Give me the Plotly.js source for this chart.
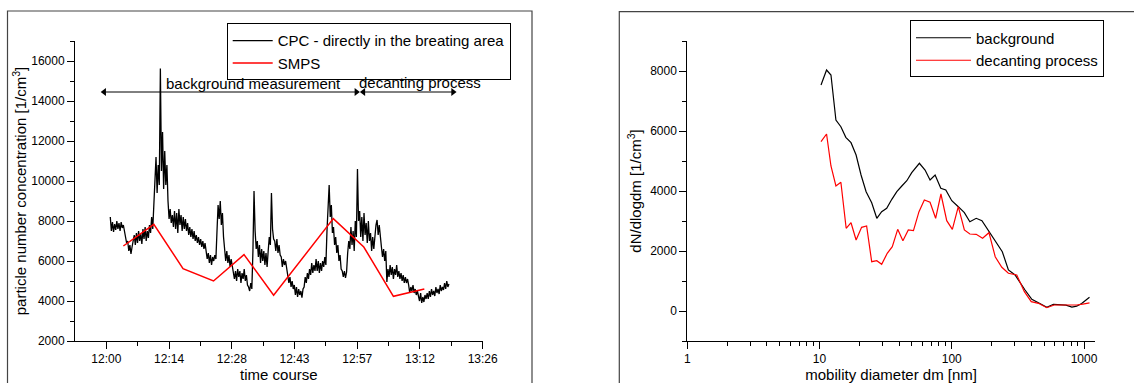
<!DOCTYPE html>
<html><head><meta charset="utf-8">
<script src="https://cdn.plot.ly/plotly-3.0.1.min.js"></script>
<style>html,body{margin:0;padding:0;background:#fff;} #chart{width:1134px;height:383px;}</style>
</head><body><div id="chart"></div>
<script>
// ---- left panel: time course ----
const timeTickVals = [0, 14.4, 28.8, 43.2, 57.6, 72, 86.4];   // minutes after 12:00
const timeTickText = ['12:00', '12:14', '12:28', '12:43', '12:57', '13:12', '13:26'];
const timeMinorVals = [7.2, 21.6, 36, 50.4, 64.8, 79.2];

// CPC readings, sampled every 0.25 min starting 0.9 min after 12:00
const cpcStart = 0.9, cpcStep = 0.25;
const cpcValues = [
  8200,7500,7950,7450,7850,7550,8000,7600,7900,7500,7950,7650,7800,7550,
  7300,6900,7000,6500,6800,6350,6700,
  6950,7300,6800,7400,6900,7500,7000,7350,6850,7600,7100,7700,7000,7500,7150,7800,
  7400,8200,7600,8800,
  9500,11200,9400,10800,9800,
  15620,
  10500,12450,9600,11500,9800,10800,
  9000,8100,8600,7900,
  8300,7700,8500,7600,8400,7400,8600,7800,8300,7500,8200,7600,8100,
  7500,7900,7300,7700,7200,7600,7100,7500,7000,7300,6900,7200,6800,7100,6700,7000,6600,6900,
  6500,6100,6400,5900,6300,5800,6200,6000,6300,6100,
  7500,8800,8100,9000,7800,8400,7200,
  6700,6000,6500,5900,6300,5700,6100,5800,
  5600,5100,5500,5000,5600,5200,5500,4900,5400,5100,5600,5000,5300,4800,
  4700,4500,4900,4600,
  6500,9500,
  7500,6600,7000,6200,6800,5900,6600,6000,6500,5800,6400,5700,
  6500,7200,6800,9400,7600,7100,
  7000,6500,7100,6400,6800,6300,
  6200,5700,6100,5800,6000,5600,
  5400,4900,5200,4700,5000,4600,
  4800,4300,4700,4200,4600,4300,4500,4170,4600,
  4700,5200,4900,5400,5100,5600,5300,5900,5400,5800,5500,6100,
  5500,6000,5400,5900,5500,6000,5700,6200,5800,
  7500,8500,9800,8200,8800,7400,
  7700,6800,7200,6400,6800,6000,6300,5600,
  5500,5200,5500,5150,5450,
  6400,7000,6600,7700,6800,7500,6500,8000,7200,
  10600,8000,
  8500,7200,8200,7000,8400,7300,7900,6900,8000,
  7000,7400,6500,7200,6600,
  7300,7800,8050,7300,7800,7000,
  6700,6200,6600,6000,6500,
  4950,
  5600,5200,5800,5300,5700,5100,5600,5300,5800,5200,5500,5100,5400,5000,
  5300,4900,5200,4900,5100,
  4800,4400,4700,4500,4800,4400,4600,4300,4500,
  4300,4000,4400,3900,4200,3950,4300,4100,
  4400,4100,4500,4200,4600,4300,4500,4250,4700,4400,4600,4350,4800,4500,4700,4550,4900,4600,5000,4700,4850
];
const smpsTime = [3.9, 10.9, 17.6, 24.6, 31.6, 38.4, 52.1, 59.1, 65.9, 73.0];
const smpsValues = [6750, 7835, 5620, 5000, 6320, 4285, 8120, 6700, 4235, 4600];

// phase arrows (minutes after 12:00) and their height
const phaseBackground = [-0.5, 57.4];
const phaseDecanting = [59.0, 79.6];
const phaseY = 14450;

// ---- right panel: size distribution ----
const bgDiameter = [10.26,11.3,12.2,13.3,14.5,15.8,17.3,18.9,20.6,22.5,24.8,27.1,29.5,32.2,35.2,38.4,41.9,45.7,49.8,56.9,62.8,68.5,74.8,82.6,90.1,100,112,124.5,137,153,169,184,201,221,241,268,301,358,403,452,523,587,650,730,810,880,960,1030,1100];
const bgValues   = [7533,8033,7867,6367,6143,5790,5610,5200,4533,3977,3610,3090,3310,3423,3723,3977,4167,4343,4610,4923,4700,4367,4533,4090,4033,3677,3477,3277,2977,3090,3010,2757,2477,2223,1977,1367,1200,700,390,277,123,223,215,195,130,160,250,350,460];
const decDiameter = [10.26,11.3,12.2,13.3,14.5,15.9,17.3,18.9,20.8,22.7,24.8,27.1,29.5,32.5,35.5,39.0,42.7,46.9,51.3,56.5,62,68.5,75.5,82.8,91.6,101,112,124.5,137,153,171,191,213,239,268,310,354,399,452,523,596,680,780,880,980,1100];
const decValues   = [5643,5900,4833,4167,4290,2757,2943,2367,2790,2833,1643,1677,1557,1923,2143,2723,2343,2700,2677,3310,3700,3623,3090,3900,3010,2723,3477,2700,2567,2557,2423,2610,1810,1457,1257,1200,643,310,257,110,200,200,200,200,230,270];

const dTickVals = [1, 10, 100, 1000];
const dTickText = ['1', '10', '100', '1000'];
const dMinorVals = [2,3,4,5,6,7,8,9,20,30,40,50,60,70,80,90,200,300,400,500,600,700,800,900];

const cpcTime = cpcValues.map((_, i) => cpcStart + i * cpcStep);

const FONT = 'Liberation Sans, Arial, sans-serif';
const W = 1134, H = 383;
const M_T = 41, M_B = 42.2;
const PH = H - M_T - M_B;
const px = v => v / W;
const py = v => (H - M_B - v) / PH;   // pixel row -> paper fraction (plot area based)

const arrowTrace = xs => ({
  x: xs, y: [phaseY, phaseY], type: 'scatter', mode: 'lines+markers', showlegend: false, hoverinfo: 'skip',
  line: {color: '#000', width: 1},
  marker: {symbol: ['triangle-left', 'triangle-right'], size: 7, color: '#000'},
  xaxis: 'x', yaxis: 'y'
});

const traces = [
  {x: cpcTime, y: cpcValues, type: 'scatter', mode: 'lines', name: 'CPC - directly in the breating area',
   line: {color: '#000', width: 1.3}, xaxis: 'x', yaxis: 'y', legend: 'legend'},
  {x: smpsTime, y: smpsValues, type: 'scatter', mode: 'lines', name: 'SMPS',
   line: {color: '#ff0000', width: 1.5}, xaxis: 'x', yaxis: 'y', legend: 'legend'},
  arrowTrace(phaseBackground),
  arrowTrace(phaseDecanting),
  {x: bgDiameter, y: bgValues, type: 'scatter', mode: 'lines', name: 'background',
   line: {color: '#000', width: 1.2}, xaxis: 'x2', yaxis: 'y2', legend: 'legend2'},
  {x: decDiameter, y: decValues, type: 'scatter', mode: 'lines', name: 'decanting process',
   line: {color: '#ff0000', width: 1.2}, xaxis: 'x2', yaxis: 'y2', legend: 'legend2'}
];

const axisCommon = {
  showline: true, linecolor: '#000', linewidth: 1, mirror: false,
  showgrid: false, zeroline: false, ticks: 'outside', ticklen: 7, tickwidth: 1, tickcolor: '#000',
  tickfont: {family: FONT, size: 12, color: '#000'}
};
const minorCommon = {ticks: 'outside', ticklen: 4, tickwidth: 1, tickcolor: '#000', showgrid: false};

const layout = {
  width: W, height: H, margin: {l: 0, r: 0, t: M_T, b: M_B},
  paper_bgcolor: '#fff', plot_bgcolor: 'rgba(0,0,0,0)',
  font: {family: FONT, size: 15, color: '#000'},
  showlegend: true,
  xaxis: Object.assign({}, axisCommon, {
    domain: [px(75), px(482.7)], anchor: 'y', range: [-7.2, 86.4],
    tickmode: 'array', tickvals: timeTickVals, ticktext: timeTickText,
    minor: Object.assign({}, minorCommon, {tickmode: 'array', tickvals: timeMinorVals}),
    title: {text: 'time course', font: {family: FONT, size: 15, color: '#000'}, standoff: 18}
  }),
  yaxis: Object.assign({}, axisCommon, {
    domain: [0, 1], anchor: 'x', range: [2000, 17000],
    tickmode: 'linear', tick0: 2000, dtick: 2000, tickformat: 'd',
    minor: Object.assign({}, minorCommon, {dtick: 1000, tick0: 1000}),
    title: {text: 'particle number concentration [1/cm<sup>3</sup>]', font: {family: FONT, size: 15, color: '#000'}, standoff: 0}
  }),
  xaxis2: Object.assign({}, axisCommon, {
    type: 'log', domain: [px(687.3), px(1095)], anchor: 'y2', range: [0, 3.083],
    tickmode: 'array', tickvals: dTickVals, ticktext: dTickText,
    minor: Object.assign({}, minorCommon, {tickmode: 'array', tickvals: dMinorVals}),
    title: {text: 'mobility diameter dm [nm]', font: {family: FONT, size: 15, color: '#000'}, standoff: 18}
  }),
  yaxis2: Object.assign({}, axisCommon, {
    domain: [0, 1], anchor: 'x2', range: [-1000, 9000],
    tickmode: 'linear', tick0: 0, dtick: 2000, tickformat: 'd',
    minor: Object.assign({}, minorCommon, {dtick: 1000, tick0: -1000}),
    title: {text: 'dN/dlogdm [1/cm<sup>3</sup>]', font: {family: FONT, size: 15, color: '#000'}, standoff: 4}
  }),
  legend: {x: px(226.7), y: py(23.3), xanchor: 'left', yanchor: 'top', itemwidth: 40,
    bordercolor: '#000', borderwidth: 1, bgcolor: 'rgba(255,255,255,0)',
    font: {family: FONT, size: 15, color: '#000'}, tracegroupgap: 0},
  legend2: {x: px(910), y: py(20.5), xanchor: 'left', yanchor: 'top', itemwidth: 55,
    bordercolor: '#000', borderwidth: 1, bgcolor: 'rgba(255,255,255,0)',
    font: {family: FONT, size: 15, color: '#000'}, tracegroupgap: 0},
  shapes: [
    {type: 'rect', xref: 'paper', yref: 'paper', x0: px(7.5), x1: px(532), y0: py(395), y1: py(11),
     line: {color: '#444', width: 1.2}, fillcolor: 'rgba(0,0,0,0)', layer: 'below'},
    {type: 'rect', xref: 'paper', yref: 'paper', x0: px(619.3), x1: 1.1, y0: py(395), y1: py(11.7),
     line: {color: '#444', width: 1.2}, fillcolor: 'rgba(0,0,0,0)', layer: 'below'}
  ],
  annotations: [
    {xref: 'x', yref: 'y', x: 33.8, y: 14900, text: 'background measurement', showarrow: false,
     font: {family: FONT, size: 15, color: '#000'}},
    {xref: 'x', yref: 'y', x: 72.0, y: 14950, text: 'decanting process', showarrow: false,
     font: {family: FONT, size: 15, color: '#000'}}
  ]
};

Plotly.newPlot('chart', traces, layout, {displayModeBar: false, staticPlot: true});
</script>
</body></html>
